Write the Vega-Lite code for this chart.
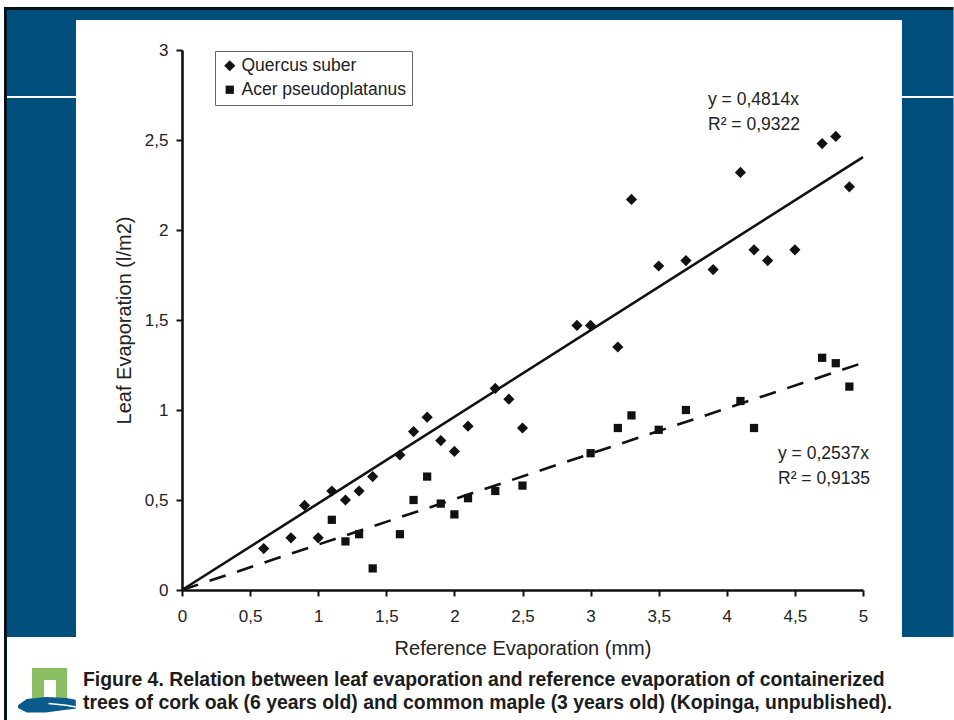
{
"$schema":"https://vega.github.io/schema/vega-lite/v6.json",
"autosize":"none","width":681,"height":540,
"padding":{"left":182,"top":50,"right":91,"bottom":130},
"background":"#ffffff",
"config":{"view":{"stroke":null},"font":"Liberation Sans","text":{"font":"Liberation Sans"}},
"datasets":{
"qs":[{"ref":0.6,"leaf":0.23,"species":"Quercus suber"},{"ref":0.8,"leaf":0.29,"species":"Quercus suber"},{"ref":0.9,"leaf":0.47,"species":"Quercus suber"},{"ref":1.0,"leaf":0.29,"species":"Quercus suber"},{"ref":1.1,"leaf":0.55,"species":"Quercus suber"},{"ref":1.2,"leaf":0.5,"species":"Quercus suber"},{"ref":1.3,"leaf":0.55,"species":"Quercus suber"},{"ref":1.4,"leaf":0.63,"species":"Quercus suber"},{"ref":1.6,"leaf":0.75,"species":"Quercus suber"},{"ref":1.7,"leaf":0.88,"species":"Quercus suber"},{"ref":1.8,"leaf":0.96,"species":"Quercus suber"},{"ref":1.9,"leaf":0.83,"species":"Quercus suber"},{"ref":2.0,"leaf":0.77,"species":"Quercus suber"},{"ref":2.1,"leaf":0.91,"species":"Quercus suber"},{"ref":2.3,"leaf":1.12,"species":"Quercus suber"},{"ref":2.4,"leaf":1.06,"species":"Quercus suber"},{"ref":2.5,"leaf":0.9,"species":"Quercus suber"},{"ref":2.9,"leaf":1.47,"species":"Quercus suber"},{"ref":3.0,"leaf":1.47,"species":"Quercus suber"},{"ref":3.2,"leaf":1.35,"species":"Quercus suber"},{"ref":3.3,"leaf":2.17,"species":"Quercus suber"},{"ref":3.5,"leaf":1.8,"species":"Quercus suber"},{"ref":3.7,"leaf":1.83,"species":"Quercus suber"},{"ref":3.9,"leaf":1.78,"species":"Quercus suber"},{"ref":4.1,"leaf":2.32,"species":"Quercus suber"},{"ref":4.2,"leaf":1.89,"species":"Quercus suber"},{"ref":4.3,"leaf":1.83,"species":"Quercus suber"},{"ref":4.5,"leaf":1.89,"species":"Quercus suber"},{"ref":4.7,"leaf":2.48,"species":"Quercus suber"},{"ref":4.8,"leaf":2.52,"species":"Quercus suber"},{"ref":4.9,"leaf":2.24,"species":"Quercus suber"},
{"ref":1.1,"leaf":0.39,"species":"Acer pseudoplatanus"},{"ref":1.2,"leaf":0.27,"species":"Acer pseudoplatanus"},{"ref":1.3,"leaf":0.31,"species":"Acer pseudoplatanus"},{"ref":1.4,"leaf":0.12,"species":"Acer pseudoplatanus"},{"ref":1.6,"leaf":0.31,"species":"Acer pseudoplatanus"},{"ref":1.7,"leaf":0.5,"species":"Acer pseudoplatanus"},{"ref":1.8,"leaf":0.63,"species":"Acer pseudoplatanus"},{"ref":1.9,"leaf":0.48,"species":"Acer pseudoplatanus"},{"ref":2.0,"leaf":0.42,"species":"Acer pseudoplatanus"},{"ref":2.1,"leaf":0.51,"species":"Acer pseudoplatanus"},{"ref":2.3,"leaf":0.55,"species":"Acer pseudoplatanus"},{"ref":2.5,"leaf":0.58,"species":"Acer pseudoplatanus"},{"ref":3.0,"leaf":0.76,"species":"Acer pseudoplatanus"},{"ref":3.2,"leaf":0.9,"species":"Acer pseudoplatanus"},{"ref":3.3,"leaf":0.97,"species":"Acer pseudoplatanus"},{"ref":3.5,"leaf":0.89,"species":"Acer pseudoplatanus"},{"ref":3.7,"leaf":1.0,"species":"Acer pseudoplatanus"},{"ref":4.1,"leaf":1.05,"species":"Acer pseudoplatanus"},{"ref":4.2,"leaf":0.9,"species":"Acer pseudoplatanus"},{"ref":4.7,"leaf":1.29,"species":"Acer pseudoplatanus"},{"ref":4.8,"leaf":1.26,"species":"Acer pseudoplatanus"},{"ref":4.9,"leaf":1.13,"species":"Acer pseudoplatanus"}],
"labels":[
{"ref":3.862,"leaf":2.723,"text":"y = 0,4814x"},
{"ref":3.862,"leaf":2.584,"text":"R² = 0,9322"},
{"ref":4.376,"leaf":0.756,"text":"y = 0,2537x"},
{"ref":4.376,"leaf":0.617,"text":"R² = 0,9135"}],
"ticksY":[{"leaf":0},{"leaf":0.5},{"leaf":1},{"leaf":1.5},{"leaf":2},{"leaf":2.5},{"leaf":3}],
"ticksX":[{"ref":0},{"ref":0.5},{"ref":1},{"ref":1.5},{"ref":2},{"ref":2.5},{"ref":3},{"ref":3.5},{"ref":4},{"ref":4.5},{"ref":5}]
},
"encoding":{
"x":{"field":"ref","type":"quantitative","scale":{"domain":[0,5],"nice":false},
 "axis":{"values":[0,0.5,1,1.5,2,2.5,3,3.5,4,4.5,5],"title":"Reference Evaporation (mm)","grid":false,"zindex":1,
 "labelExpr":"replace(format(datum.value,'~g'),'.',',')","labelFont":"Liberation Sans","labelFontSize":17,"labelColor":"#222222","labelPadding":12,"labelFlush":false,
 "titleFont":"Liberation Sans","titleFontSize":20,"titleFontWeight":"normal","titleColor":"#222222","titlePadding":14,
 "domainColor":"#111111","domainWidth":2.6,"tickColor":"#111111","tickWidth":2,"tickSize":6}},
"y":{"field":"leaf","type":"quantitative","scale":{"domain":[0,3],"nice":false},
 "axis":{"values":[0,0.5,1,1.5,2,2.5,3],"title":"Leaf Evaporation (l/m2)","grid":false,"zindex":1,
 "labelExpr":"replace(format(datum.value,'~g'),'.',',')","labelFont":"Liberation Sans","labelFontSize":17,"labelColor":"#222222","labelPadding":8,"labelFlush":false,
 "titleFont":"Liberation Sans","titleFontSize":20,"titleFontWeight":"normal","titleColor":"#222222","titlePadding":10,
 "domainColor":"#111111","domainWidth":2.6,"tickColor":"#111111","tickWidth":2,"tickSize":6}}
},
"layer":[
{"data":{"values":[{"a":-1.285,"b":5.665,"c":3.222,"d":-0.261}]},"mark":{"type":"rect","color":"#004f7c","clip":false},
 "encoding":{"x":{"field":"a","type":"quantitative"},"x2":{"field":"b"},"y":{"field":"c","type":"quantitative"},"y2":{"field":"d"}}},
{"data":{"values":[{"a":-1.285,"b":5.665,"c":3.239,"d":3.222},{"a":-1.307,"b":-1.285,"c":3.239,"d":-0.722}]},"mark":{"type":"rect","color":"#05121c","clip":false},
 "encoding":{"x":{"field":"a","type":"quantitative"},"x2":{"field":"b"},"y":{"field":"c","type":"quantitative"},"y2":{"field":"d"}}},
{"data":{"values":[{"a":-1.285,"b":5.665,"c":2.745,"d":2.733},{"a":-0.778,"b":5.286,"c":3.167,"d":-0.261}]},"mark":{"type":"rect","color":"#ffffff","clip":false},
 "encoding":{"x":{"field":"a","type":"quantitative"},"x2":{"field":"b"},"y":{"field":"c","type":"quantitative"},"y2":{"field":"d"}}},
{"data":{"values":[{"a":-1.101,"b":-0.844,"c":-0.433,"d":-0.611}]},"mark":{"type":"rect","color":"#8bbd62","clip":false},
 "encoding":{"x":{"field":"a","type":"quantitative"},"x2":{"field":"b"},"y":{"field":"c","type":"quantitative"},"y2":{"field":"d"}}},
{"data":{"values":[{"a":-1.013,"b":-0.925,"c":-0.5,"d":-0.611}]},"mark":{"type":"rect","color":"#ffffff","clip":false},
 "encoding":{"x":{"field":"a","type":"quantitative"},"x2":{"field":"b"},"y":{"field":"c","type":"quantitative"},"y2":{"field":"d"}}},
{"data":{"values":[{"a":-1.204,"c":-0.64,"d":-0.655},{"a":-1.14,"c":-0.605,"d":-0.68},{"a":-1.0,"c":-0.595,"d":-0.68},{"a":-0.85,"c":-0.6,"d":-0.665},{"a":-0.78,"c":-0.61,"d":-0.66}]},"mark":{"type":"area","color":"#0a5a8c","clip":false},
 "encoding":{"x":{"field":"a","type":"quantitative"},"y":{"field":"c","type":"quantitative"},"y2":{"field":"d"}}},
{"data":{"values":[{"ref":-0.98,"leaf":-0.63},{"ref":-0.85,"leaf":-0.64},{"ref":-0.78,"leaf":-0.65}]},"mark":{"type":"line","color":"#ffffff","strokeWidth":1.5,"clip":false}},
{"data":{"values":[{"ref":0,"leaf":0},{"ref":5,"leaf":2.405}]},"mark":{"type":"line","color":"#111111","strokeWidth":2.6,"clip":false}},
{"data":{"values":[{"ref":0,"leaf":0},{"ref":5,"leaf":1.262}]},"mark":{"type":"line","color":"#111111","strokeWidth":2.6,"strokeDash":[17,12],"clip":false}},
{"data":{"name":"ticksY"},"mark":{"type":"tick","orient":"horizontal","color":"#111111","size":12,"thickness":2,"clip":false},
 "encoding":{"x":{"datum":0},"y":{"field":"leaf","type":"quantitative"}}},
{"data":{"name":"ticksX"},"mark":{"type":"tick","orient":"vertical","color":"#111111","size":12,"thickness":2,"clip":false},
 "encoding":{"y":{"datum":0},"x":{"field":"ref","type":"quantitative"}}},
{"data":{"name":"qs"},"mark":{"type":"point","filled":true,"opacity":1,"color":"#111111","clip":false},
 "encoding":{
 "size":{"field":"species","type":"nominal","sort":["Quercus suber","Acer pseudoplatanus"],"scale":{"domain":["Quercus suber","Acer pseudoplatanus"],"range":[125,68]},
  "legend":{"title":null,"orient":"none","legendX":33,"legendY":1,"fillColor":"#ffffff","strokeColor":"#666666","padding":6,"labelFont":"Liberation Sans","labelFontSize":17.5,"labelColor":"#222222","labelLimit":220,"symbolFillColor":"#111111","symbolStrokeColor":"#111111","rowPadding":5,"labelOffset":3}},
 "shape":{"field":"species","type":"nominal","sort":["Quercus suber","Acer pseudoplatanus"],
  "scale":{"domain":["Quercus suber","Acer pseudoplatanus"],"range":["diamond","square"]},
  "legend":{"title":null,"orient":"none","legendX":33,"legendY":1,"fillColor":"#ffffff","strokeColor":"#666666","padding":6,"labelFont":"Liberation Sans","labelFontSize":17.5,"labelColor":"#222222","labelLimit":220,"symbolFillColor":"#111111","symbolStrokeColor":"#111111","rowPadding":5,"labelOffset":3}}}},
{"data":{"name":"labels"},"mark":{"type":"text","align":"left","baseline":"middle","font":"Liberation Sans","fontSize":17.5,"color":"#222222","clip":false},
 "encoding":{"text":{"field":"text"}}},
{"data":{"values":[{"ref":-0.727,"leaf":-0.5,"text":"Figure 4. Relation between leaf evaporation and reference evaporation of containerized"},{"ref":-0.727,"leaf":-0.628,"text":"trees of cork oak (6 years old) and common maple (3 years old) (Kopinga, unpublished)."}]},
 "mark":{"type":"text","align":"left","baseline":"middle","font":"Liberation Sans","fontSize":19.4,"fontWeight":"bold","color":"#1c1c1c","clip":false},
 "encoding":{"text":{"field":"text"}}}
]
}
